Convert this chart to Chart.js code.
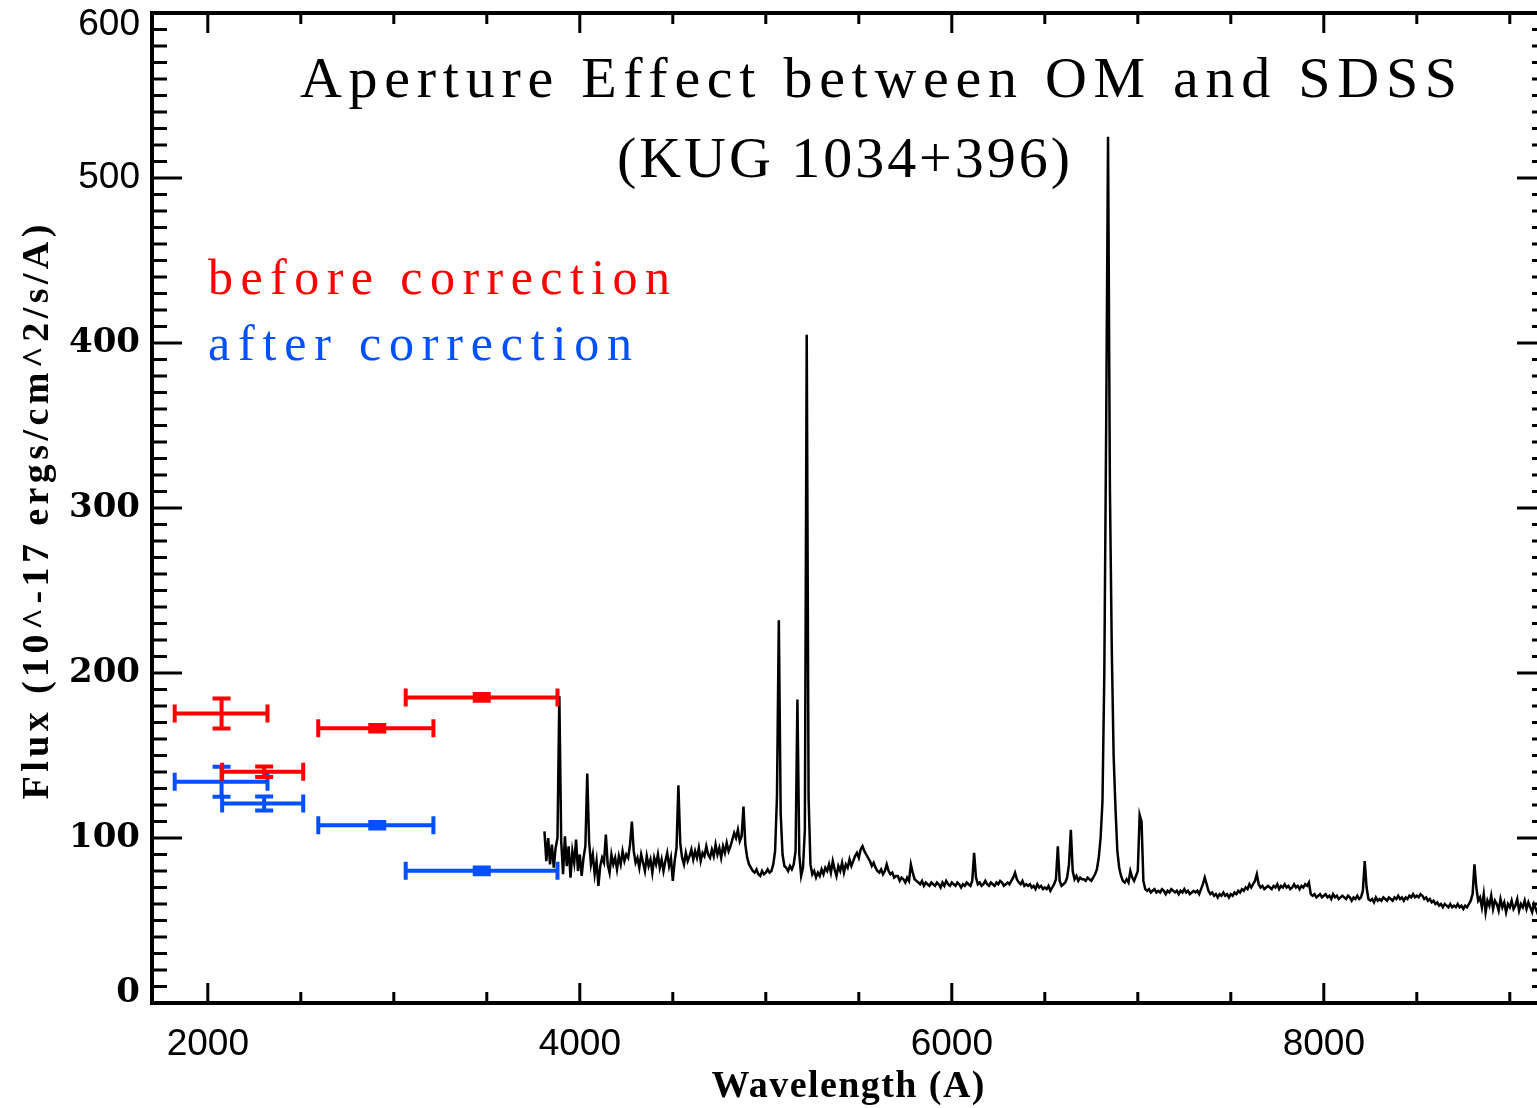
<!DOCTYPE html>
<html>
<head>
<meta charset="utf-8">
<title>Aperture Effect between OM and SDSS (KUG 1034+396)</title>
<script src="https://cdn.jsdelivr.net/npm/chart.js@4/dist/chart.umd.min.js"></script>
<style>
  html, body { margin: 0; padding: 0; background: #fff; overflow: hidden; }
  canvas { display: block; }
</style>
</head>
<body>
<canvas id="c" width="1560" height="1108"></canvas>
<script>
// SDSS spectrum of KUG 1034+396, flux in 1e-17 erg/s/cm^2/A,
// sampled every 10 A starting at 3810 A (one row per 100 A).
const WAVE_START = 3810;
const WAVE_STEP = 10;
const specFlux = [
  104, 86, 100, 84, 96, 82, 94, 100, 186, 98,
  78, 101, 83, 95, 76, 92, 85, 99, 80, 90,
  77, 88, 95, 139, 98, 84, 90, 78, 86, 71,
  83, 88, 85, 102, 84, 79, 90, 84, 88, 81,
  89, 84, 92, 86, 90, 88, 96, 110, 92, 85,
  88, 82, 90, 85, 80, 89, 83, 87, 79, 88,
  84, 90, 82, 87, 80, 86, 91, 83, 88, 74,
  86, 94, 132, 97, 88, 84, 91, 86, 89, 93,
  87, 92, 88, 94, 86, 91, 89, 95, 90, 88,
  93, 89, 96, 90, 94, 88, 95, 91, 97, 92,
  95, 99, 103, 100, 105, 98, 101, 119, 96, 88,
  84, 82, 80, 79, 81, 78, 77, 80, 78, 79,
  81, 79, 80, 84, 92, 125, 232, 115, 90, 83,
  82, 80, 83, 81, 84, 92, 184, 90, 77, 82,
  105, 405, 125, 84, 78, 80, 76, 79, 77, 81,
  78, 82, 80, 84, 79, 86, 81, 77, 83, 80,
  85, 79, 84, 82, 87, 83, 86, 89, 91, 88,
  93, 95, 92, 90, 88, 86, 83, 85, 82, 80,
  79, 81, 78, 80, 84, 80, 78, 79, 76, 77,
  77, 74, 76, 75, 73, 76, 74, 84, 79, 75,
  74, 73, 72, 74, 71, 73, 72, 71, 73, 72,
  71, 73, 72, 70, 73, 71, 74, 72, 71, 73,
  72, 71, 73, 72, 70, 72, 71, 73, 72, 71,
  74, 91, 76, 72, 73, 71, 72, 74, 72, 71,
  73, 72, 71, 73, 72, 74, 73, 71, 72, 73,
  72, 74, 76, 79, 75, 73, 72, 74, 71, 72,
  71, 72, 70, 71, 69, 72, 70, 71, 69, 70,
  69, 71, 68, 70, 72, 75, 95, 74, 71, 72,
  73, 76, 84, 105, 80, 75, 77, 74, 76, 75,
  75, 74, 76, 75, 74, 76, 78, 81, 88, 100,
  122, 200, 350, 525, 312, 215, 150, 118, 92, 82,
  77, 74, 73, 75, 73, 80, 76, 74, 77, 80,
  114, 110, 74, 69, 68, 69, 67, 68, 69, 67,
  68, 67, 69, 68, 66, 68, 67, 69, 68, 67,
  68, 66, 68, 67, 69, 67, 68, 66, 67, 68,
  67, 68, 66, 69, 72, 76, 72, 68, 66, 67,
  65, 66, 64, 66, 65, 67, 65, 66, 64, 66,
  65, 67, 66, 68, 67, 69, 68, 70, 69, 72,
  70, 72, 74, 78, 72, 70, 71, 69, 70, 71,
  70, 69, 71, 70, 72, 69, 71, 70, 72, 70,
  71, 69, 70, 72, 70, 71, 69, 71, 70, 72,
  71, 73, 66, 65, 66, 64, 65, 66, 64, 65,
  66, 64, 65, 63, 66, 64, 65, 63, 64, 65,
  64, 63, 65, 64, 62, 64, 63, 65, 63, 64,
  68, 86, 70, 63, 62, 63, 61, 64, 62, 63,
  62, 64, 63, 62, 64, 63, 62, 64, 63, 65,
  63, 64, 62, 64, 63, 65, 64, 66, 64, 65,
  64, 66, 65, 63, 64, 62, 63, 61, 62, 60,
  61, 59, 60, 58, 60, 59, 58, 60, 58, 59,
  58, 60, 58, 59, 57, 59, 58, 60, 62, 66,
  84, 70, 62, 64, 58, 66, 55, 62, 59, 65,
  57, 62, 60, 56, 63, 58, 61, 55, 60, 58,
  62, 57, 59, 63, 56, 60, 58, 62, 57, 61,
  58, 55, 60, 57, 54, 59, 56, 58, 55, 57
];

// OM photometry: filter effective wavelength and band edges (A)
const omWave   = [2074, 2303, 2911, 3473];
const omBandLo = [1822, 2077, 2594, 3064];
const omBandHi = [2321, 2513, 3213, 3880];

// OM fluxes before and after the aperture correction, with 1-sigma errors
const fluxBefore = [175.5, 140.2, 166.5, 185.2];
const errBefore  = [9.1, 3.2, 2.0, 2.0];
const fluxAfter  = [134.1, 120.9, 107.7, 80.1];
const errAfter   = [9.1, 4.3, 2.0, 2.0];

// axis ranges and ticks (wavelength ticks every 500 A, labelled every 2000 A)
const X_MIN = 1700, X_MAX = 9200;
const xTicks = [2000, 2500, 3000, 3500, 4000, 4500, 5000, 5500, 6000, 6500, 7000, 7500, 8000, 8500, 9000];
const xTickLabels = ['2000', '4000', '6000', '8000'];
const Y_MIN = 0, Y_MAX = 600, Y_MINOR = 10, Y_MAJOR = 100;
const yTickLabels = ['0', '100', '200', '300', '400', '500', '600'];

const RED = '#ff0000';
const BLUE = '#0050ff';

const spectrum = specFlux.map((f, i) => ({ x: WAVE_START + i * WAVE_STEP, y: f }));
const omPoints = (flux, err) => flux.map((f, i) => ({
  x: omWave[i], y: f, xMin: omBandLo[i], xMax: omBandHi[i], yErr: err[i]
}));

// Error bars (both directions) for the OM photometry datasets
const errorBarPlugin = {
  id: 'omErrorBars',
  afterDatasetsDraw(chart) {
    const ctx = chart.ctx;
    const xs = chart.scales.x, ys = chart.scales.y;
    const cap = 9;
    chart.data.datasets.forEach(ds => {
      if (!ds.errorBars) return;
      ctx.save();
      ctx.strokeStyle = ds.borderColor;
      ctx.lineWidth = 4;
      ctx.lineCap = 'butt';
      ds.data.forEach(p => {
        const px = xs.getPixelForValue(p.x);
        const py = ys.getPixelForValue(p.y);
        const x0 = xs.getPixelForValue(p.xMin);
        const x1 = xs.getPixelForValue(p.xMax);
        const yt = ys.getPixelForValue(p.y + p.yErr);
        const yb = ys.getPixelForValue(p.y - p.yErr);
        ctx.beginPath();
        ctx.moveTo(x0, py); ctx.lineTo(x1, py);
        ctx.moveTo(x0, py - cap); ctx.lineTo(x0, py + cap);
        ctx.moveTo(x1, py - cap); ctx.lineTo(x1, py + cap);
        ctx.moveTo(px, yt); ctx.lineTo(px, yb);
        ctx.moveTo(px - cap, yt); ctx.lineTo(px + cap, yt);
        ctx.moveTo(px - cap, yb); ctx.lineTo(px + cap, yb);
        ctx.stroke();
      });
      ctx.restore();
    });
  }
};

// Box frame with inward-pointing ticks on all four sides, plus flux labels
const framePlugin = {
  id: 'boxFrame',
  afterDraw(chart) {
    const ctx = chart.ctx;
    const { left, right, top, bottom } = chart.chartArea;
    const xs = chart.scales.x, ys = chart.scales.y;
    ctx.save();
    ctx.strokeStyle = '#000';
    ctx.lineCap = 'butt';
    ctx.lineWidth = 3;
    ctx.beginPath();
    xs.ticks.forEach(t => {
      const major = xTickLabels.includes(String(t.value));
      const len = major ? 20 : 11;
      const px = xs.getPixelForValue(t.value);
      ctx.moveTo(px, bottom); ctx.lineTo(px, bottom - len);
      ctx.moveTo(px, top); ctx.lineTo(px, top + len);
    });
    ys.ticks.forEach(t => {
      if (t.value % Y_MINOR !== 0) return;
      const len = t.value % Y_MAJOR === 0 ? 30 : 15;
      const py = ys.getPixelForValue(t.value);
      ctx.moveTo(left, py); ctx.lineTo(left + len, py);
      ctx.moveTo(right, py); ctx.lineTo(right - len, py);
    });
    ctx.stroke();
    ctx.lineWidth = 4;
    ctx.strokeRect(left, top, right - left, bottom - top);

    // flux tick labels, kept inside the frame height at both ends
    ctx.fillStyle = '#000';
    ctx.textAlign = 'right';
    ctx.textBaseline = 'middle';
    ys.ticks.forEach(t => {
      const label = String(t.value);
      if (!yTickLabels.includes(label)) return;
      const py = Math.min(Math.max(ys.getPixelForValue(t.value), top + 12), bottom - 10);
      ctx.font = t.value >= 500 ? '37px "Liberation Sans"' : 'bold 34px "DejaVu Serif"';
      ctx.fillText(label, left - 12, py);
    });
    ctx.restore();
  }
};

// Draw a line of text stretched (via letter spacing) to a given width
function spacedText(ctx, text, x, y, width, font, color) {
  ctx.save();
  ctx.font = font;
  ctx.fillStyle = color;
  ctx.textAlign = 'left';
  ctx.textBaseline = 'alphabetic';
  if ('letterSpacing' in ctx) {
    ctx.letterSpacing = '0px';
    const natural = ctx.measureText(text).width;
    const n = Array.from(text).length;
    ctx.letterSpacing = ((width - natural) / (n - 1)).toFixed(2) + 'px';
  }
  ctx.fillText(text, x, y);
  ctx.restore();
}

const labelPlugin = {
  id: 'plotLabels',
  afterDraw(chart) {
    const ctx = chart.ctx;
    const titleFont = '58px "Liberation Serif"';
    spacedText(ctx, 'Aperture Effect between OM and SDSS', 300, 97, 1157, titleFont, '#000');
    spacedText(ctx, '(KUG 1034+396)', 617, 177, 453, titleFont, '#000');

    const keyFont = '50px "Liberation Serif"';
    spacedText(ctx, 'before correction', 208, 294, 462, keyFont, RED);
    spacedText(ctx, 'after correction', 208, 360, 424, keyFont, BLUE);

    const axisFont = 'bold 38px "Liberation Serif"';
    spacedText(ctx, 'Wavelength (A)', 848 - 273 / 2, 1097, 273, axisFont, '#000');
    ctx.save();
    ctx.translate(48, 512);
    ctx.rotate(-Math.PI / 2);
    spacedText(ctx, 'Flux (10^-17 ergs/cm^2/s/A)', -575 / 2, 0, 575, axisFont, '#000');
    ctx.restore();
  }
};

new Chart(document.getElementById('c'), {
  type: 'scatter',
  data: {
    datasets: [
      {
        type: 'line',
        label: 'SDSS spectrum',
        data: spectrum,
        borderColor: '#000',
        borderWidth: 2.5,
        pointRadius: 0,
        tension: 0,
        fill: false
      },
      {
        label: 'after correction',
        data: omPoints(fluxAfter, errAfter),
        borderColor: BLUE,
        backgroundColor: BLUE,
        pointRadius: 0,
        showLine: false,
        errorBars: true
      },
      {
        label: 'before correction',
        data: omPoints(fluxBefore, errBefore),
        borderColor: RED,
        backgroundColor: RED,
        pointRadius: 0,
        showLine: false,
        errorBars: true
      }
    ]
  },
  options: {
    responsive: false,
    animation: false,
    devicePixelRatio: 1,
    layout: { padding: { left: 0, right: 13, top: 13, bottom: 0 } },
    plugins: { legend: { display: false }, tooltip: { enabled: false } },
    scales: {
      x: {
        type: 'linear',
        min: X_MIN,
        max: X_MAX,
        grid: { display: false, drawTicks: false },
        border: { display: false },
        afterBuildTicks(s) { s.ticks = xTicks.map(v => ({ value: v })); },
        ticks: {
          autoSkip: false,
          maxRotation: 0,
          padding: 20,
          color: '#000',
          font: { family: '"Liberation Sans"', size: 37 },
          callback: v => (xTickLabels.includes(String(v)) ? String(v) : '')
        },
        afterFit(s) { s.height = 105; s.paddingLeft = 0; s.paddingRight = 0; }
      },
      y: {
        type: 'linear',
        min: Y_MIN,
        max: Y_MAX,
        grid: { display: false, drawTicks: false },
        border: { display: false },
        ticks: {
          display: false,
          stepSize: Y_MINOR,
          autoSkip: false
        },
        afterFit(s) { s.width = 152; s.paddingTop = 0; s.paddingBottom = 0; }
      }
    }
  },
  plugins: [errorBarPlugin, framePlugin, labelPlugin]
});
</script>
</body>
</html>
